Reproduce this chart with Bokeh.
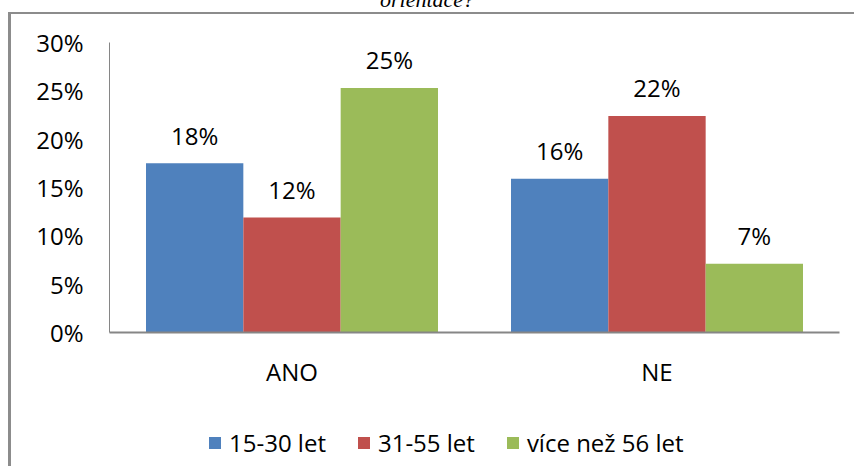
from bokeh.plotting import figure
from bokeh.models import (FactorRange, FixedTicker, NumeralTickFormatter, Legend,
                          LegendItem, ColumnDataSource, Range1d, Div)
from bokeh.layouts import column
from bokeh.transform import dodge
from bokeh.embed import file_html
from bokeh.resources import INLINE
from bokeh.core.properties import value

title_text = "orientace?"
categories = ["ANO", "NE"]
series_names = ["15-30 let", "31-55 let", "více než 56 let"]
age_15_30 = [0.175, 0.159]
age_31_55 = [0.119, 0.224]
age_56_plus = [0.253, 0.071]
colors = ["#4F81BD", "#C0504D", "#9BBB59"]
y_ticks = [0, 0.05, 0.10, 0.15, 0.20, 0.25, 0.30]

FONT = "Open Sans"
FS = "24px"
AXIS_COLOR = "#868686"
W = 843

p = figure(x_range=FactorRange(factors=categories, range_padding=0),
           y_range=Range1d(0, 0.30),
           width=W, height=406,
           min_border_left=98, min_border_right=W - 98 - 730,
           min_border_top=28, min_border_bottom=88,
           output_backend="svg", toolbar_location=None)

p.xgrid.grid_line_color = None
p.ygrid.grid_line_color = None
p.outline_line_color = None
p.background_fill_color = "white"
p.border_fill_color = "white"

p.yaxis.ticker = FixedTicker(ticks=y_ticks)
p.yaxis.formatter = NumeralTickFormatter(format="0%")
p.yaxis.major_tick_line_color = None
p.yaxis.minor_tick_line_color = None
p.yaxis.axis_line_color = AXIS_COLOR
p.yaxis.axis_line_width = 1
p.yaxis.major_label_standoff = 20
p.yaxis.major_label_text_font = FONT
p.yaxis.major_label_text_font_size = FS
p.yaxis.major_label_text_color = "black"

p.xaxis.major_tick_line_color = None
p.xaxis.minor_tick_line_color = None
p.xaxis.axis_line_color = AXIS_COLOR
p.xaxis.axis_line_width = 2
p.xaxis.major_label_standoff = 16
p.xaxis.major_label_text_font = FONT
p.xaxis.major_label_text_font_size = FS
p.xaxis.major_label_text_color = "black"

bar_w = 0.8 / 3
offsets = [-bar_w, 0.0, bar_w]
all_series = [age_15_30, age_31_55, age_56_plus]

for vals, col, off in zip(all_series, colors, offsets):
    src = ColumnDataSource(dict(x=categories, top=vals,
                                label=[f"{int(v * 100 + 0.5)}%" for v in vals]))
    p.vbar(x=dodge("x", off, range=p.x_range), top="top", width=bar_w,
           source=src, fill_color=col, line_color=None)
    p.text(x=dodge("x", off, range=p.x_range), y="top", text="label", source=src,
           y_offset=-28, text_align="center", text_baseline="alphabetic",
           text_font=value(FONT), text_font_size=value(FS), text_color="black")

# legend strip below the chart
LH = 46
pl = figure(x_range=Range1d(0, W), y_range=Range1d(0, LH), width=W, height=LH,
            min_border=0, x_axis_type=None, y_axis_type=None,
            output_backend="svg", toolbar_location=None)
pl.xgrid.grid_line_color = None
pl.ygrid.grid_line_color = None
pl.outline_line_color = None
pl.border_fill_color = "white"

items = []
for name, col in zip(series_names, colors):
    r = pl.vbar(x=[-100], top=[0], width=1, fill_color=col, line_color=None)
    items.append(LegendItem(label=name, renderers=[r]))

legend = Legend(items=items, orientation="horizontal", location=(98, 7),
                glyph_width=15, glyph_height=15, label_standoff=7, spacing=30,
                padding=0, margin=0, border_line_color=None,
                background_fill_alpha=0,
                label_text_font=FONT, label_text_font_size=FS,
                label_text_color="black")
pl.add_layout(legend)

chart = column(p, pl, spacing=0,
               styles={"border-left": "3px solid #8c8c8c",
                       "border-top": "2px solid #8c8c8c",
                       "margin-left": "8px"})

title = Div(text=("<div style=\"position:relative; top:-11px; width:854px; "
                  "text-align:center; font-family:'Liberation Serif'; "
                  "font-style:italic; font-size:22px; line-height:22px;\">"
                  + title_text + "</div>"),
            width=854, height=12,
            styles={"overflow": "hidden", "height": "12px", "margin": "0"})

layout = column(title, chart, spacing=0)

open("out.html", "w").write(file_html(layout, INLINE))
